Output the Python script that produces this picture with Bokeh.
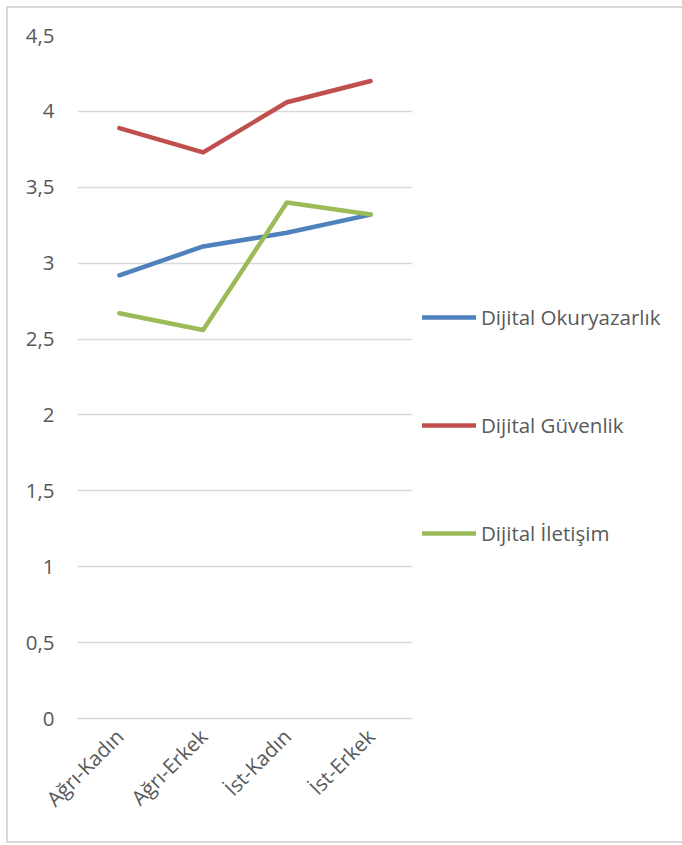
from bokeh.plotting import figure
from bokeh.models import (FixedTicker, CustomJSTickFormatter, Legend, LegendItem, Range1d)
from bokeh.embed import file_html
from bokeh.resources import INLINE
import math

categories = ["Ağrı-Kadın", "Ağrı-Erkek", "İst-Kadın", "İst-Erkek"]
okuryazarlik = [2.92, 3.11, 3.20, 3.32]
guvenlik = [3.89, 3.73, 4.06, 4.20]
iletisim = [2.67, 2.56, 3.40, 3.32]
series_names = ["Dijital Okuryazarlık", "Dijital Güvenlik", "Dijital İletişim"]
y_ticks = [0, 0.5, 1, 1.5, 2, 2.5, 3, 3.5, 4, 4.5]

FONT = "Open Sans"
FS = "20.5px"
TXT = "#595959"
GRID = "#d9d9d9"

p = figure(x_range=categories, y_range=Range1d(0, 4.5),
           frame_width=335, frame_height=683,
           output_backend="svg", toolbar_location=None,
           min_border_left=69, min_border_top=27, min_border_bottom=123,
           min_border_right=270)
p.styles = {"border-left": "2px solid #d9d9d9", "border-top": "2px solid #d9d9d9",
            "border-bottom": "2px solid #d9d9d9", "box-sizing": "border-box",
            "margin-left": "6px", "margin-top": "6px"}
p.outline_line_color = None
p.background_fill_color = "white"
p.border_fill_color = "white"

p.xgrid.grid_line_color = None
p.ygrid.grid_line_color = GRID
p.ygrid.grid_line_width = 1.5
p.yaxis.ticker = FixedTicker(ticks=y_ticks)
p.yaxis.formatter = CustomJSTickFormatter(code="return tick.toString().replace('.', ',');")
p.yaxis.axis_line_color = None
p.yaxis.major_tick_line_color = None
p.yaxis.major_tick_out = 0
p.yaxis.minor_tick_line_color = None
p.yaxis.major_label_text_font = FONT
p.yaxis.major_label_text_font_size = FS
p.yaxis.major_label_text_color = TXT
p.yaxis.major_label_standoff = 23

p.xaxis.axis_line_color = GRID
p.xaxis.axis_line_width = 1.5
p.xaxis.major_tick_line_color = None
p.xaxis.major_tick_out = 0
p.xaxis.minor_tick_line_color = None
p.xaxis.major_label_orientation = math.pi / 4
p.xaxis.major_label_text_font = FONT
p.xaxis.major_label_text_font_size = FS
p.xaxis.major_label_text_color = TXT
p.xaxis.major_label_standoff = 14

colors = ["#4f81bd", "#c0504d", "#9bbb59"]
renderers = []
for vals, c in zip([okuryazarlik, guvenlik, iletisim], colors):
    r = p.line(categories, vals, line_color=c, line_width=4.5,
               line_cap="round", line_join="round")
    renderers.append(r)

legend = Legend(items=[LegendItem(label=n, renderers=[r]) for n, r in zip(series_names, renderers)],
                location=(10, 171), orientation="vertical", spacing=80,
                glyph_width=54, glyph_height=24, label_height=24, label_standoff=5,
                label_text_font=FONT, label_text_font_size=FS,
                label_text_color=TXT, border_line_color=None,
                background_fill_alpha=0, padding=0, margin=0)
p.add_layout(legend, "right")

open("out.html", "w").write(file_html(p, INLINE))
